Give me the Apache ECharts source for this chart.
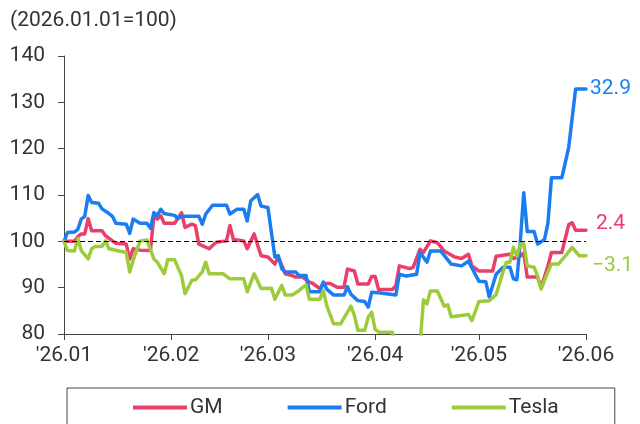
<!DOCTYPE html>
<html>
<head>
<meta charset="utf-8">
<script src="https://cdn.jsdelivr.net/npm/echarts@6/dist/echarts.min.js"></script>
<style>
  html, body { margin: 0; padding: 0; background: #fff; }
  #main { width: 640px; height: 424px; }
</style>
</head>
<body>
<div id="main"></div>
<script>
// [days since 2026-01-01, index (2026.01.01=100)]
var gmPoints = [
  [0,100],[3,100],[4,101],[5,101.6],[6,101.6],[7,104.9],[8,102.3],[11,102.3],[12,101.2],[14,100.1],
  [15,99.6],[18,99.4],[19,96.2],[20,98.4],[22,98.1],[25,98],[26,105.5],[27,104.8],[28,105.5],[29,103.9],
  [32,103.9],[34,106.2],[35,103],[37,103.7],[38,103.4],[39,99.4],[42,98.4],[44,99.8],[47,100.1],[48,103.4],
  [49,100.4],[52,100.1],[53,98.4],[55,101.6],[57,96.9],[59,96.6],[61,95.1],[62,96.6],[64,93],[66,92.6],
  [67,92.3],[69,92.3],[71,91.2],[72,90.9],[74,89.8],[75,90.9],[77,90.9],[79,90.1],[81,90.1],[82,94],
  [84,93.6],[85,90.8],[88,90.8],[89,92.4],[90,92.4],[91,89.6],[95,89.6],[96,90.4],[97,94.7],[100,94.1],
  [101,94.4],[103,98.3],[104,97.6],[106,100.1],[108,99.7],[110,97.9],[113,96.6],[115,96.3],[117,97.2],[118,94.7],
  [120,93.6],[124,93.6],[125,96.8],[129,97.2],[130,96.3],[132,96.8],[133,97.5],[134,92.3],[137,92.3],[138,90],
  [140,94.7],[141,97.6],[144,97.6],[146,103.6],[147,104],[148,102.4],[151,102.4]
];
var fordPoints = [
  [0,100],[1,101.9],[3,102],[4,102.6],[5,104.8],[6,105.4],[7,109.9],[8,108.4],[10,108.2],[11,107],
  [13,106],[14,105.4],[15,103.9],[18,103.7],[19,101.7],[20,104.8],[22,103.9],[24,103.9],[25,102.8],[26,106.2],
  [27,105.6],[28,106.9],[29,106],[32,105.6],[33,104.9],[34,105.4],[39,105.4],[40,103.7],[41,105.9],[43,107.8],
  [47,107.8],[48,105.9],[50,106.9],[52,106.9],[53,104.4],[54,108.7],[56,110.1],[57,107.6],[59,107.3],[60,101.9],
  [61,96.6],[62,96.9],[63,94.1],[64,93.4],[67,93.4],[68,92.6],[70,92.6],[71,89.1],[74,89.1],[75,91.2],
  [76,89.7],[78,88.4],[81,88.4],[82,90.2],[83,88.6],[85,87.2],[87,87],[88,85.8],[89,89],[91,88.9],
  [96,88.4],[97,92.9],[99,92.5],[102,92.9],[103,97.6],[105,95.5],[106,97.9],[109,97.9],[112,95.1],[115,94.7],
  [117,95.7],[120,91.4],[122,91.3],[123,88],[125,92.9],[127,94.4],[129,94.4],[130,91.9],[131,91.7],[132,100],
  [133,110.5],[134,102.1],[136,102.1],[137,99.4],[139,100.4],[140,104],[141,113.7],[144,113.7],[146,120.3],[148,132.9],
  [151,132.9]
];
var teslaPoints = [
  [0,100],[1,98],[3,97.9],[4,100.6],[5,98],[7,96.2],[8,98.4],[9,98.9],[11,98.9],[12,100.1],
  [13,98.4],[18,97.6],[19,93.4],[20,95.9],[22,100.1],[24,100.3],[26,96.2],[27,95.5],[29,93],[30,96],
  [32,96],[34,92.6],[35,88.7],[37,91.6],[38,91.7],[40,93.4],[41,95.5],[42,93],[46,93],[48,91.9],
  [52,91.9],[53,89.1],[55,93],[57,89.8],[60,89.9],[61,87.5],[63,90.5],[64,88.4],[66,88.4],[68,89.4],
  [70,90.6],[71,87.5],[74,87.5],[75,89.4],[76,86.1],[78,82.2],[80,82.2],[82,84.7],[83,86],[84,84],
  [85,80.8],[87,80.8],[88,83.6],[89,84.7],[90,81],[91,80.4],[95,80.4],[96,77],[102,77],[103,78],
  [104,87.4],[105,86.5],[106,89.3],[108,89.3],[110,86],[111,86.3],[112,83.7],[115,84],[117,84.2],[118,82.9],
  [120,87],[123,87.2],[125,88.5],[127,93.4],[128,95.5],[129,95.5],[130,98.7],[131,96.8],[132,99.4],[133,99.4],
  [134,94.7],[136,94.4],[137,92.5],[138,89.7],[140,93.4],[141,95.1],[143,95.1],[145,96.8],[147,98.7],[149,96.9],
  [151,96.9]
];
var seriesNames = ['GM', 'Ford', 'Tesla'];
var seriesColors = ['#E8406A', '#1A7DF2', '#9DCB3C'];
var endLabelOffsets = [[10, -6], [4, 0], [6, 10]];

// daily categories 2026-01-01 .. 2026-06-01
var dates = [];
for (var t = Date.UTC(2026, 0, 1); t <= Date.UTC(2026, 5, 1); t += 86400000) {
  dates.push(new Date(t).toISOString().slice(0, 10));
}
var isMonthStart = function (i, v) { return v.slice(8) === '01'; };

var font = 'Roboto';
var fs = 21;
var myChart = echarts.init(document.getElementById('main'));

var series = [gmPoints, fordPoints, teslaPoints].map(function (pts, k) {
  var s = {
    name: seriesNames[k],
    type: 'line',
    data: pts,
    symbol: 'none',
    color: seriesColors[k],
    lineStyle: { width: 3.5, cap: 'round', join: 'round' },
    endLabel: {
      show: true,
      formatter: function (p) {
        var d = (p.value[1] - 100).toFixed(1);
        return d.replace('-', '\u2212');
      },
      color: seriesColors[k],
      fontSize: fs,
      fontFamily: font,
      distance: 0,
      offset: endLabelOffsets[k]
    }
  };
  if (k === 0) {
    s.markLine = {
      silent: true,
      symbol: 'none',
      label: { show: false },
      lineStyle: { color: '#000', type: [5, 3], width: 1 },
      data: [{ yAxis: 100 }]
    };
  }
  return s;
});

var option = {
  backgroundColor: '#fff',
  animation: false,
  title: {
    text: '(2026.01.01=100)',
    left: 5,
    top: 5,
    textStyle: { fontSize: fs, fontWeight: 'normal', color: '#333', fontFamily: font }
  },
  grid: { left: 64, right: 54, top: 56, bottom: 90 },
  xAxis: {
    type: 'category',
    data: dates,
    boundaryGap: false,
    axisLine: { lineStyle: { color: '#444', width: 1 } },
    axisTick: { interval: isMonthStart, length: 6, lineStyle: { color: '#444' } },
    axisLabel: {
      interval: isMonthStart,
      formatter: function (v) { return "'" + v.slice(2, 4) + '.' + v.slice(5, 7); },
      fontSize: fs,
      color: '#333',
      fontFamily: font,
      margin: 11
    }
  },
  yAxis: {
    type: 'value',
    min: 80,
    max: 140,
    interval: 10,
    axisLine: { show: true, lineStyle: { color: '#444', width: 1 } },
    axisTick: { show: true, length: 6, lineStyle: { color: '#444' } },
    splitLine: { show: false },
    axisLabel: { fontSize: fs, color: '#333', fontFamily: font, margin: 19 }
  },
  legend: {
    left: 67,
    top: 388,
    padding: [9, 56, 30, 66],
    itemGap: 65,
    itemWidth: 54,
    itemHeight: 4,
    icon: 'rect',
    borderColor: '#444',
    borderWidth: 1,
    textStyle: { fontSize: fs, color: '#333', fontFamily: font, padding: [0, 0, 0, -2] },
    data: seriesNames
  },
  series: series
};

myChart.setOption(option);
</script>
</body>
</html>
